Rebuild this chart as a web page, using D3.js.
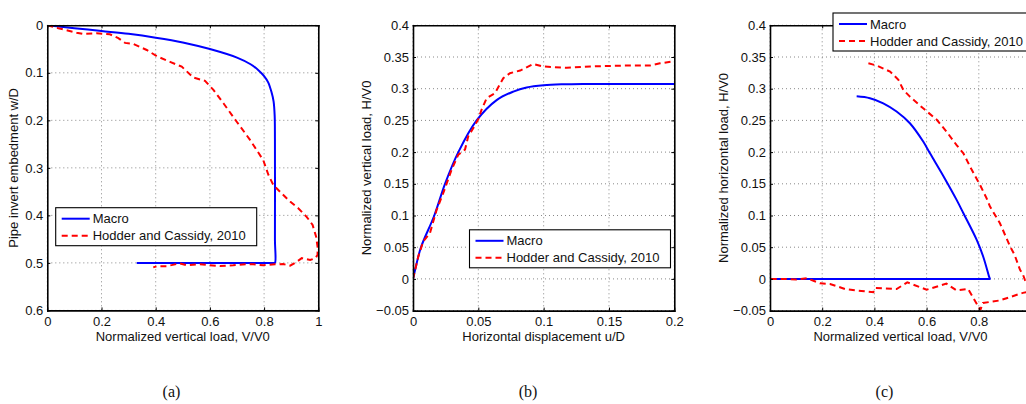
<!DOCTYPE html>
<html><head><meta charset="utf-8">
<script src="https://cdn.jsdelivr.net/npm/d3@7"></script>
<style>
html,body{margin:0;padding:0;background:#fff;}
svg{display:block;font-family:"Liberation Sans",Arial,Helvetica,sans-serif;}
</style></head>
<body>
<svg id="chart" width="1026" height="404"></svg>
<script>
// ---------- DATA ----------
const seriesNames = ["Macro", "Hodder and Cassidy, 2010"];

// Panel (a): pipe invert embedment w/D vs normalized vertical load V/V0
const aXTicks = [0, 0.2, 0.4, 0.6, 0.8, 1];
const aXTickLabels = ["0", "0.2", "0.4", "0.6", "0.8", "1"];
const aYTicks = [0, 0.1, 0.2, 0.3, 0.4, 0.5, 0.6];
const aYTickLabels = ["0", "0.1", "0.2", "0.3", "0.4", "0.5", "0.6"];
const aMacroV = [0, 0.1, 0.2, 0.3, 0.4, 0.5, 0.6, 0.7, 0.75, 0.78, 0.8, 0.815, 0.827, 0.835, 0.839, 0.84, 0.84, 0.84, 0.835, 0.6, 0.33];
const aMacroW = [0, 0.006, 0.012, 0.018, 0.026, 0.036, 0.05, 0.068, 0.082, 0.095, 0.107, 0.12, 0.14, 0.16, 0.19, 0.24, 0.45, 0.5, 0.5, 0.5, 0.5];
const aHodderV = [0, 0.041, 0.108, 0.133, 0.182, 0.231, 0.262, 0.287, 0.317, 0.367, 0.404, 0.453, 0.496, 0.539, 0.582, 0.613, 0.65, 0.699, 0.748, 0.797, 0.816, 0.834, 0.865, 0.896, 0.926, 0.957, 0.979, 0.992, 0.998, 0.997, 0.989, 0.97, 0.939, 0.92, 0.896, 0.871, 0.84, 0.797, 0.76, 0.736, 0.686, 0.637, 0.563, 0.514, 0.489, 0.44, 0.404, 0.391];
const aHodderW = [0, 0.0063, 0.0155, 0.0183, 0.0169, 0.019, 0.027, 0.037, 0.039, 0.052, 0.065, 0.077, 0.087, 0.11, 0.117, 0.136, 0.164, 0.203, 0.241, 0.284, 0.315, 0.336, 0.354, 0.371, 0.385, 0.403, 0.42, 0.445, 0.469, 0.4836, 0.49, 0.494, 0.49, 0.498, 0.506, 0.5025, 0.503, 0.505, 0.503, 0.5025, 0.505, 0.5067, 0.503, 0.505, 0.501, 0.507, 0.507, 0.5095];

// Panel (b): H/V0 vs horizontal displacement u/D
const bXTicks = [0, 0.05, 0.1, 0.15, 0.2];
const bXTickLabels = ["0", "0.05", "0.1", "0.15", "0.2"];
const bYTicks = [-0.05, 0, 0.05, 0.1, 0.15, 0.2, 0.25, 0.3, 0.35, 0.4];
const bYTickLabels = ["\u22120.05", "0", "0.05", "0.1", "0.15", "0.2", "0.25", "0.3", "0.35", "0.4"];
const bMacroU = [0, 0.0025, 0.0061, 0.0163, 0.0245, 0.0347, 0.0487, 0.064, 0.0768, 0.087, 0.1, 0.115, 0.13, 0.2];
const bMacroH = [0, 0.022, 0.05, 0.1, 0.15, 0.2, 0.25, 0.282, 0.2955, 0.302, 0.3055, 0.307, 0.3075, 0.3075];
const bHodderU = [0, 0.0041, 0.0079, 0.013, 0.0181, 0.0232, 0.0296, 0.0347, 0.0398, 0.0423, 0.0462, 0.05, 0.0525, 0.0564, 0.0628, 0.0691, 0.0742, 0.082, 0.092, 0.0997, 0.1176, 0.1355, 0.161, 0.1814, 0.189, 0.2];
const bHodderH = [0, 0.0356, 0.0593, 0.0725, 0.109, 0.1356, 0.1724, 0.196, 0.204, 0.225, 0.238, 0.252, 0.267, 0.285, 0.293, 0.3166, 0.3245, 0.3286, 0.339, 0.335, 0.333, 0.335, 0.3365, 0.3365, 0.34, 0.3434];

// Panel (c): H/V0 vs V/V0 (the tick at 1 lies beyond the picture's right edge)
const cXTicks = [0, 0.2, 0.4, 0.6, 0.8];
const cXTickLabels = ["0", "0.2", "0.4", "0.6", "0.8"];
const cYTicks = bYTicks;
const cYTickLabels = bYTickLabels;
const cMacroV = [0, 0.4, 0.8, 0.836, 0.842, 0.839, 0.817, 0.792, 0.741, 0.715, 0.67, 0.613, 0.587, 0.536, 0.485, 0.434, 0.383, 0.332];
const cMacroH = [0, 0, 0, 0, 0, 0.004, 0.035, 0.0615, 0.1036, 0.1246, 0.158, 0.198, 0.2166, 0.2455, 0.264, 0.277, 0.285, 0.288];
const cHodderV = [0.377, 0.409, 0.46, 0.492, 0.511, 0.536, 0.587, 0.639, 0.677, 0.715, 0.741, 0.773, 0.805, 0.83, 0.843, 0.881, 0.92, 0.937, 0.958, 0.969, 0.977, 0.995, 0.969, 0.88, 0.816, 0.806, 0.759, 0.714, 0.676, 0.6, 0.526, 0.485, 0.403, 0.396, 0.35, 0.288, 0.23, 0.192, 0.141, 0.1, 0.05, 0];
const cHodderH = [0.34, 0.3365, 0.327, 0.314, 0.298, 0.2875, 0.269, 0.251, 0.232, 0.211, 0.198, 0.172, 0.148, 0.127, 0.114, 0.0878, 0.051, 0.038, 0.0142, 0.007, -0.002, -0.02, -0.022, -0.034, -0.038, -0.049, -0.016, -0.018, -0.0075, -0.017, -0.0054, -0.016, -0.0143, -0.021, -0.019, -0.016, -0.008, -0.007, 0.001, -0.001, 0, 0];

const captions = ["(a)", "(b)", "(c)"];

// ---------- DRAWING ----------
const svg = d3.select("#chart");
svg.append("rect").attr("width", 1026).attr("height", 404).attr("fill", "#fff");

const zip = (xs, ys) => xs.map((v, i) => [v, ys[i]]);

function panel(o, idx) {
  const g = svg.append("g");
  const x = d3.scaleLinear().domain(o.xDomain).range([o.left, o.right]);
  const y = d3.scaleLinear().domain(o.yDomain).range([o.bottom, o.top]);
  const clipId = "clip" + idx;
  svg.append("clipPath").attr("id", clipId).append("rect")
    .attr("x", o.left).attr("y", o.top).attr("width", o.right - o.left).attr("height", o.bottom - o.top);

  // grid
  const grid = g.append("g").attr("stroke", "#6a6a6a").attr("stroke-width", 0.8).attr("stroke-dasharray", "1,3");
  grid.selectAll("line.vx").data(o.xTicks).join("line")
    .attr("x1", d => x(d)).attr("x2", d => x(d)).attr("y1", o.top).attr("y2", o.bottom);
  grid.selectAll("line.hy").data(o.yTicks).join("line")
    .attr("x1", o.left).attr("x2", o.right).attr("y1", d => y(d)).attr("y2", d => y(d));

  // data
  const smooth = d3.line().x(d => x(d[0])).y(d => y(d[1])).curve(d3.curveCatmullRom.alpha(0.5));
  const line = d3.line().x(d => x(d[0])).y(d => y(d[1]));
  const dg = g.append("g").attr("clip-path", `url(#${clipId})`);
  dg.append("path").datum(o.macro).attr("d", smooth)
    .attr("fill", "none").attr("stroke", "#0000ff").attr("stroke-width", 2).attr("stroke-linejoin", "round");
  dg.append("path").datum(o.hodder).attr("d", line)
    .attr("fill", "none").attr("stroke", "#ff0000").attr("stroke-width", 2).attr("stroke-dasharray", "6,4");

  // axes
  const styleAxis = sel => {
    sel.select(".domain").attr("stroke", "#000").attr("stroke-width", 1.6);
    sel.selectAll(".tick line").attr("stroke", "#000").attr("stroke-width", 1);
    sel.selectAll(".tick text").attr("fill", "#111").style("font-size", "13px")
      .style("font-family", '"Liberation Sans",Arial,Helvetica,sans-serif');
  };
  const bottom = d3.axisBottom(x).tickValues(o.xTicks).tickFormat((d, i) => o.xLabels[i])
    .tickSizeInner(-3).tickSizeOuter(0).tickPadding(6.5);
  g.append("g").attr("transform", `translate(0,${o.bottom})`).call(bottom).call(styleAxis);
  const top = d3.axisTop(x).tickValues(o.xTicks).tickFormat("").tickSizeInner(-3).tickSizeOuter(0);
  g.append("g").attr("transform", `translate(0,${o.top})`).call(top).call(styleAxis);
  const left = d3.axisLeft(y).tickValues(o.yTicks).tickFormat((d, i) => o.yLabels[i])
    .tickSizeInner(-3).tickSizeOuter(0).tickPadding(4);
  g.append("g").attr("transform", `translate(${o.left},0)`).call(left).call(styleAxis);
  const right = d3.axisRight(y).tickValues(o.yTicks).tickFormat("").tickSizeInner(-3).tickSizeOuter(0);
  g.append("g").attr("transform", `translate(${o.right},0)`).call(right).call(styleAxis);
  g.selectAll(".domain").attr("stroke-linecap", "square");

  // axis titles
  g.append("text").attr("x", (o.left + o.right) / 2).attr("y", 341)
    .attr("text-anchor", "middle").attr("font-size", 13).attr("fill", "#111").text(o.xTitle);
  g.append("text").attr("transform", `translate(${o.yTitleX},${(o.top + o.bottom) / 2}) rotate(-90)`)
    .attr("text-anchor", "middle").attr("font-size", 13).attr("fill", "#111").text(o.yTitle);

  // legend
  const lg = g.append("g").attr("transform", `translate(${o.legX},${o.legY})`);
  lg.append("rect").attr("width", 201).attr("height", 38).attr("fill", "#fff").attr("stroke", "#000").attr("stroke-width", 1.1);
  const rows = [
    {name: seriesNames[0], color: "#0000ff", dash: null, cy: 11},
    {name: seriesNames[1], color: "#ff0000", dash: "6,4", cy: 28}
  ];
  rows.forEach(r => {
    lg.append("line").attr("x1", 6).attr("x2", 34).attr("y1", r.cy).attr("y2", r.cy)
      .attr("stroke", r.color).attr("stroke-width", 2).attr("stroke-dasharray", r.dash);
    lg.append("text").attr("x", 37).attr("y", r.cy).attr("dy", "0.36em")
      .attr("font-size", 13).attr("fill", "#111").text(r.name);
  });

  // caption
  svg.append("text").attr("x", o.capX).attr("y", 397).attr("text-anchor", "middle")
    .attr("font-family", '"Liberation Serif","Times New Roman",serif').attr("font-size", 16)
    .attr("fill", "#111").text(captions[idx]);
}

panel({
  xDomain: [0, 1], yDomain: [0.6, 0], left: 47.3, right: 318.3, top: 25.3, bottom: 310.4,
  xTicks: aXTicks, xLabels: aXTickLabels, yTicks: aYTicks, yLabels: aYTickLabels,
  macro: zip(aMacroV, aMacroW), hodder: zip(aHodderV, aHodderW),
  xTitle: "Normalized vertical load, V/V0", yTitle: "Pipe invert embedment w/D", yTitleX: 18,
  legX: 55.7, legY: 207.7, capX: 171.5
}, 0);

panel({
  xDomain: [0, 0.2], yDomain: [-0.05, 0.4], left: 413, right: 674.3, top: 25.3, bottom: 310.6,
  xTicks: bXTicks, xLabels: bXTickLabels, yTicks: bYTicks, yLabels: bYTickLabels,
  macro: zip(bMacroU, bMacroH), hodder: zip(bHodderU, bHodderH),
  xTitle: "Horizontal displacement u/D", yTitle: "Normalized vertical load, H/V0", yTitleX: 371,
  legX: 469.5, legY: 229.8, capX: 528
}, 1);

panel({
  xDomain: [0, 1], yDomain: [-0.05, 0.4], left: 770, right: 1031, top: 25.3, bottom: 310.6,
  xTicks: cXTicks, xLabels: cXTickLabels, yTicks: cYTicks, yLabels: cYTickLabels,
  macro: zip(cMacroV, cMacroH), hodder: zip(cHodderV, cHodderH),
  xTitle: "Normalized vertical load, V/V0", yTitle: "Normalized horizontal load, H/V0", yTitleX: 728,
  legX: 833, legY: 13, capX: 884.5
}, 2);
</script>
</body></html>
